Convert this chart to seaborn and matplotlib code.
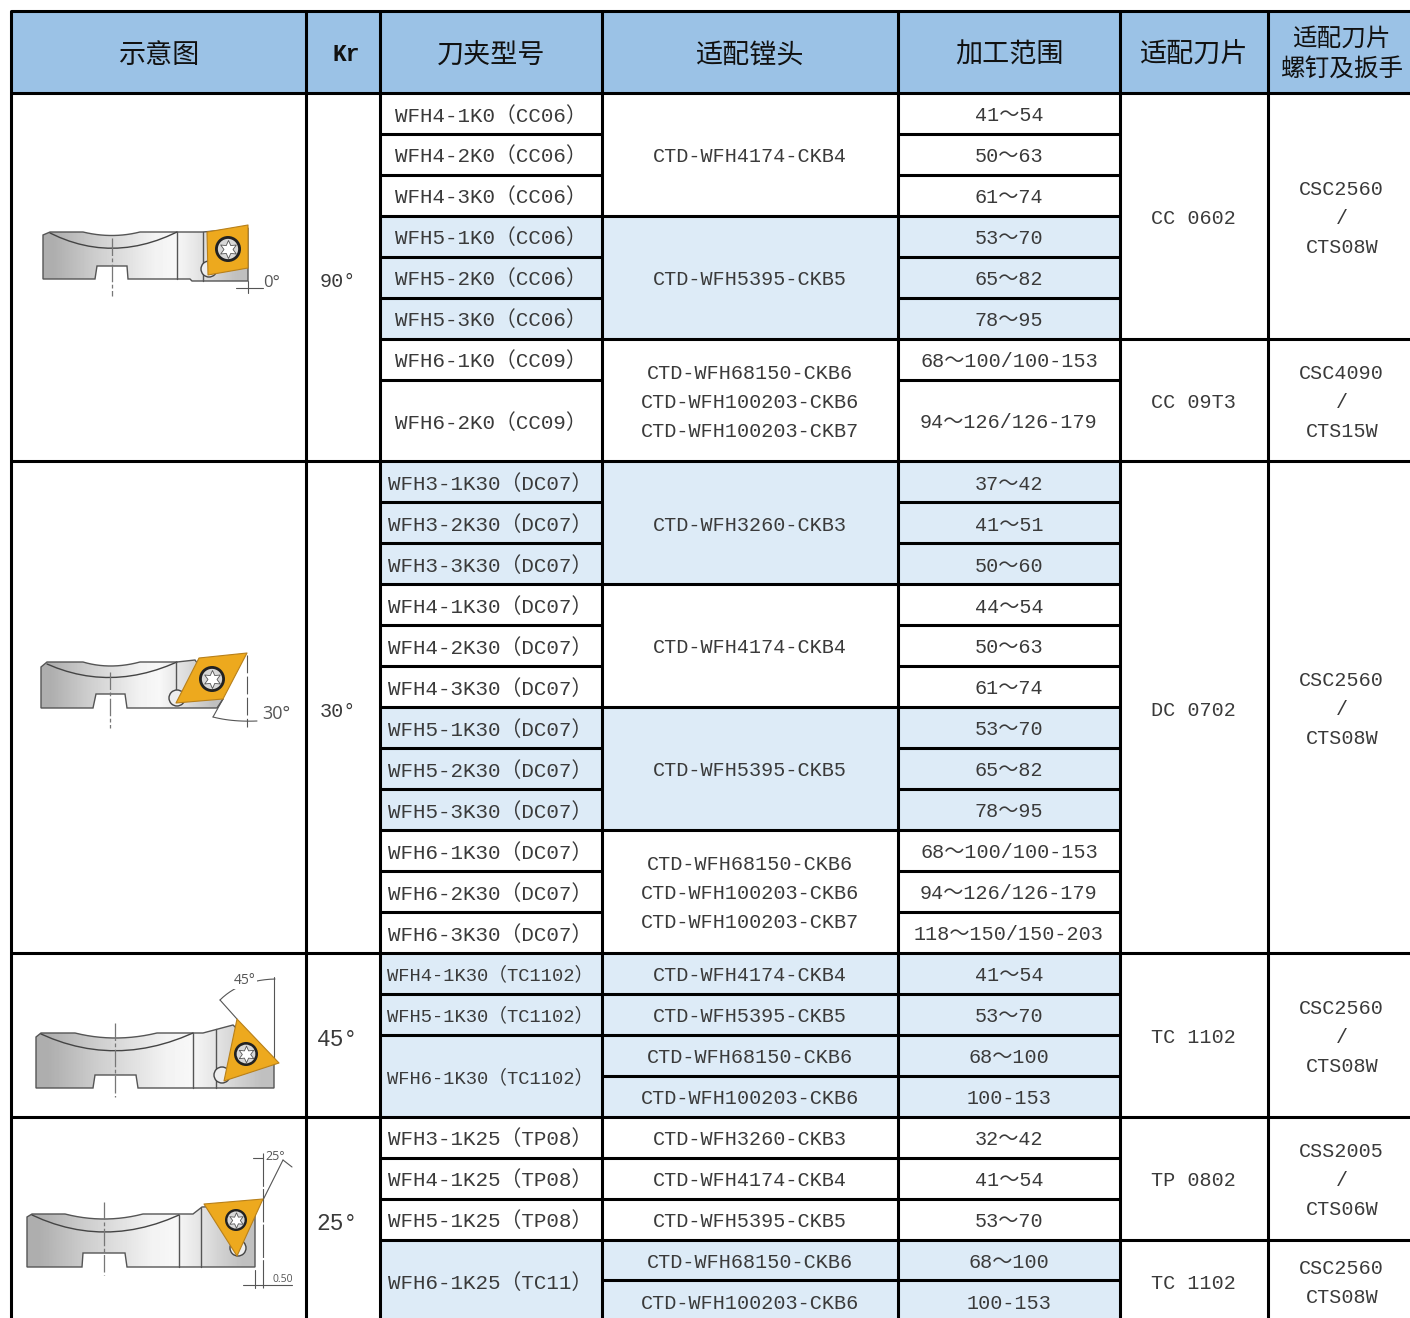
import matplotlib
matplotlib.use('Agg')
import matplotlib.pyplot as plt
import numpy as np
import seaborn as sns
from matplotlib.colors import ListedColormap
from matplotlib.patches import Circle, Polygon

W, H = 1410, 1318
COL_W, ROW_H = 73.96, 40.95
LEFT, TOP = 10.5, 11.0
N_COLS, N_ROWS = 19, 32

header_labels = ['示意图', 'Kr', '刀夹型号', '适配镗头', '加工范围', '适配刀片', '适配刀片\n螺钉及扳手']
column_edges = [0, 4, 5, 8, 12, 15, 17, 19]

group_spans = [9, 12, 4, 5]
kr_labels = ['90°', '30°', '45°', '25°']

holder_labels = [
    'WFH4-1K0（CC06）', 'WFH4-2K0（CC06）', 'WFH4-3K0（CC06）',
    'WFH5-1K0（CC06）', 'WFH5-2K0（CC06）', 'WFH5-3K0（CC06）',
    'WFH6-1K0（CC09）', 'WFH6-2K0（CC09）',
    'WFH3-1K30（DC07）', 'WFH3-2K30（DC07）', 'WFH3-3K30（DC07）',
    'WFH4-1K30（DC07）', 'WFH4-2K30（DC07）', 'WFH4-3K30（DC07）',
    'WFH5-1K30（DC07）', 'WFH5-2K30（DC07）', 'WFH5-3K30（DC07）',
    'WFH6-1K30（DC07）', 'WFH6-2K30（DC07）', 'WFH6-3K30（DC07）',
    'WFH4-1K30（TC1102）', 'WFH5-1K30（TC1102）', 'WFH6-1K30（TC1102）',
    'WFH3-1K25（TP08）', 'WFH4-1K25（TP08）', 'WFH5-1K25（TP08）',
    'WFH6-1K25（TC11）',
]
holder_spans = [1] * 7 + [2] + [1] * 14 + [2] + [1] * 3 + [2]
holder_shade = [0] * 3 + [1] * 3 + [0] * 2 + [1] * 3 + [0] * 3 + [1] * 3 + [0] * 3 + [1] * 3 + [0] * 3 + [1]

triple_a = 'CTD-WFH68150-CKB6\nCTD-WFH100203-CKB6\nCTD-WFH100203-CKB7'
seat_labels = [
    'CTD-WFH4174-CKB4', 'CTD-WFH5395-CKB5', triple_a,
    'CTD-WFH3260-CKB3', 'CTD-WFH4174-CKB4', 'CTD-WFH5395-CKB5', triple_a,
    'CTD-WFH4174-CKB4', 'CTD-WFH5395-CKB5', 'CTD-WFH68150-CKB6', 'CTD-WFH100203-CKB6',
    'CTD-WFH3260-CKB3', 'CTD-WFH4174-CKB4', 'CTD-WFH5395-CKB5',
    'CTD-WFH68150-CKB6', 'CTD-WFH100203-CKB6',
]
seat_spans = [3] * 7 + [1] * 9
seat_shade = [0, 1, 0, 1, 0, 1, 0, 1, 1, 1, 1, 0, 0, 0, 1, 1]

range_labels = [
    '41～54', '50～63', '61～74', '53～70', '65～82', '78～95',
    '68～100/100-153', '94～126/126-179',
    '37～42', '41～51', '50～60', '44～54', '50～63', '61～74',
    '53～70', '65～82', '78～95',
    '68～100/100-153', '94～126/126-179', '118～150/150-203',
    '41～54', '53～70', '68～100', '100-153',
    '32～42', '41～54', '53～70', '68～100', '100-153',
]
range_spans = [1] * 7 + [2] + [1] * 21
range_shade = [0] * 3 + [1] * 3 + [0] * 2 + [1] * 3 + [0] * 3 + [1] * 3 + [0] * 3 + [1] * 4 + [0] * 3 + [1] * 2

insert_labels = ['CC 0602', 'CC 09T3', 'DC 0702', 'TC 1102', 'TP 0802', 'TC 1102']
insert_spans = [6, 3, 12, 4, 3, 2]
screw_labels = ['CSC2560\n/\nCTS08W', 'CSC4090\n/\nCTS15W', 'CSC2560\n/\nCTS08W',
                'CSC2560\n/\nCTS08W', 'CSS2005\n/\nCTS06W', 'CSC2560\nCTS08W']

HEADER_BLUE = '#9BC2E6'
LIGHT_BLUE = '#DDEBF7'
GOLD = '#EDA91E'
TEXT = '#3a3a3a'
CJK = ['Noto Sans CJK SC', 'DejaVu Sans']

sns.set_theme(style='white')
plt.rcParams['font.family'] = ['Liberation Mono', 'Noto Sans CJK SC']

# the table sits on a regular 74 x 41 px grid, so a heatmap gives the fills
shade = np.zeros((N_ROWS, N_COLS))
shade[:2, :] = 2


def fill_column(col0, col1, spans, flags):
    row = 2
    for span, flag in zip(spans, flags):
        shade[row:row + span, col0:col1] = flag
        row += span


fill_column(5, 8, holder_spans, holder_shade)
fill_column(8, 12, seat_spans, seat_shade)
fill_column(12, 15, range_spans, range_shade)

fig = plt.figure(figsize=(W / 100, H / 100), dpi=100, facecolor='white')
ax = fig.add_axes([LEFT / W, 1 - (TOP + N_ROWS * ROW_H) / H,
                   N_COLS * COL_W / W, N_ROWS * ROW_H / H])
sns.heatmap(shade, cmap=ListedColormap(['white', LIGHT_BLUE, HEADER_BLUE]), vmin=0, vmax=2,
            cbar=False, xticklabels=False, yticklabels=False, ax=ax)
ax.collections[0].set_antialiased(False)

LW = 2.2


def draw_column(col0, col1, spans, labels, size=14.5, dy=0.055, dx=0.0, spacing=1.66):
    row = 2
    for span, label in zip(spans, labels):
        ax.plot([col0, col1], [row + span, row + span], color='black', lw=LW,
                solid_capstyle='butt', clip_on=False)
        if label:
            fs = 13.5 if 'TC1102' in label else size
            if label in ('45°', '25°'):
                fs = 16.5
            ax.text((col0 + col1) / 2 + dx, row + span / 2 + dy, label, ha='center', va='center',
                    fontsize=fs, color=TEXT, linespacing=spacing)
        row += span


draw_column(0, 4, group_spans, [''] * 4)
draw_column(4, 5, group_spans, kr_labels, dx=-0.08, dy=0.11)
draw_column(5, 8, holder_spans, holder_labels, size=15, dx=-0.01)
draw_column(8, 12, seat_spans, seat_labels)
draw_column(12, 15, range_spans, range_labels)
draw_column(15, 17, insert_spans, insert_labels, dy=0.07)
draw_column(17, 19, insert_spans, screw_labels, dy=0.06)

ax.plot([0, N_COLS], [0, 0], color='black', lw=LW, clip_on=False)
ax.plot([0, N_COLS], [2, 2], color='black', lw=LW, clip_on=False)
for edge in column_edges[:-1]:
    ax.plot([edge, edge], [0, N_ROWS], color='black', lw=LW, clip_on=False,
            solid_capstyle='butt')

for i, label in enumerate(header_labels):
    x = (column_edges[i] + column_edges[i + 1]) / 2
    if label == 'Kr':
        ax.text(x + 0.04, 1.07, label, ha='center', va='center', fontsize=16.5, fontweight='bold',
                color='#111111')
    elif '\n' in label:
        ax.text(x, 1.05, label, ha='center', va='center', fontsize=17.7, color='#111111',
                family=CJK, linespacing=1.2)
    else:
        ax.text(x, 1.08, label, ha='center', va='center', fontsize=19.5, color='#111111', family=CJK)

# sketches of the tools, in picture pixels on a second transparent layer
sk = fig.add_axes([0, 0, 1, 1])
sk.patch.set_alpha(0)
sk.set_axis_off()
GRAD = np.array([[0.68, 0.74, 0.80, 0.85, 0.90, 0.95, 0.97, 0.90, 0.82, 0.75]])


def curve(p0, c, p1, n=14):
    t = np.linspace(0, 1, n)[:, None]
    return (1 - t) ** 2 * np.array(p0) + 2 * t * (1 - t) * np.array(c) + t ** 2 * np.array(p1)


def sketch(outline, arc, dividers, insert, screw, screw_r, pocket, center_x, center_y):
    xs, ys = outline[:, 0], outline[:, 1]
    body = Polygon(outline, closed=True, facecolor='none', edgecolor='#555555', lw=1.0, zorder=3)
    sk.add_patch(body)
    im = sk.imshow(GRAD, cmap='gray', vmin=0, vmax=1, aspect='auto', interpolation='bilinear',
                   extent=[xs.min(), xs.max(), ys.max(), ys.min()], zorder=2)
    im.set_clip_path(body)
    sk.plot(arc[:, 0], arc[:, 1], color='#444444', lw=1.0, zorder=3)
    for x, y0, y1 in dividers:
        sk.plot([x, x], [y0, y1], color='#555555', lw=1.0, zorder=3)
    sk.plot([center_x, center_x], center_y, color='#777777', lw=0.9, ls=(0, (14, 2, 3, 2)), zorder=4)
    if pocket is not None:
        sk.add_patch(Circle(pocket, 8, facecolor='#eeeeee', edgecolor='#444444', lw=1.0, zorder=4))
    sk.add_patch(Polygon(insert, closed=True, facecolor=GOLD, edgecolor='#b8801a', lw=0.8,
                         joinstyle='round', zorder=5))
    sk.add_patch(Circle(screw, screw_r, facecolor='#222222', edgecolor='none', zorder=6))
    sk.add_patch(Circle(screw, screw_r * 0.78, facecolor='#d8d8d8', edgecolor='none', zorder=7))
    sk.scatter([screw[0]], [screw[1]], s=screw_r ** 2, marker=(6, 1, 0), facecolor='white',
               edgecolor='#555555', lw=0.6, zorder=8)


def leader(points, lw=0.8, color='#555555', ls='-'):
    pts = np.array(points)
    sk.plot(pts[:, 0], pts[:, 1], color=color, lw=lw, ls=ls, zorder=3)


def note(x, y, label, size, backed=False):
    box = dict(facecolor='white', edgecolor='none', pad=0.5) if backed else None
    sk.text(x, y, label, ha='center', va='center', fontsize=size, color='#555555',
            family=['Open Sans', 'DejaVu Sans'], bbox=box, zorder=4)


# 90 degree holder
sketch(np.vstack([[(43, 235), (50, 232)], curve((83, 232), (112, 239), (140, 232)),
                  [(203, 232), (248, 228), (248, 281), (192, 281), (190, 279),
                   (128, 279), (127, 266), (97, 266), (95, 279), (43, 279)]]),
       curve((50, 233), (112, 264), (177, 232)), [(177, 232, 279), (203, 232, 281)],
       [(207, 232), (248, 225), (248, 268), (208, 275)], (228, 249), 13, (209, 269), 112, (238, 296))
leader([(236, 288), (248, 288)])
leader([(248, 288), (263, 288)])
leader([(248, 281), (248, 293)])
note(272, 283, '0°', 12)

# 30 degree holder
sketch(np.vstack([[(41, 667), (47, 662)], curve((83, 662), (110, 670), (140, 662)),
                  [(177, 662), (195, 660), (223, 699), (217, 708), (127, 708), (125, 694),
                   (96, 694), (93, 708), (41, 708)]]),
       curve((47, 664), (110, 692), (177, 662)), [(176, 662, 690)],
       [(199, 658), (247, 653), (223, 699), (176, 703)], (212, 679), 13, (177, 698), 110, (672, 728))
leader([(247, 655), (247, 727)], ls=(0, (16, 3)))
leader([(223, 699), (213, 717)])
sk.plot(*curve((213, 717), (232, 722), (257, 721)).T, color='#555555', lw=0.8, zorder=3)
note(276, 714, '30°', 13)

# 45 degree holder
sketch(np.vstack([[(36, 1037), (41, 1033)], curve((75, 1033), (115, 1043), (157, 1033)),
                  [(203, 1033), (233, 1025), (274, 1063), (274, 1088), (138, 1088), (136, 1075),
                   (95, 1075), (93, 1088), (36, 1088)]]),
       curve((41, 1034), (115, 1068), (193, 1033)), [(193, 1033, 1088), (216, 1029, 1088)],
       [(237, 1019), (279, 1063), (224, 1081)], (246, 1054), 12, (222, 1075), 115, (1023, 1097))
leader([(274, 977), (274, 1063)])
leader([(237, 1019), (220, 1000)])
sk.plot(*curve((220, 1000), (240, 980), (275, 979)).T, color='#555555', lw=0.8, zorder=3)
note(245, 981, '45°', 10, backed=True)

# 25 degree holder
sketch(np.vstack([[(27, 1217), (32, 1214)], curve((65, 1214), (104, 1224), (143, 1214)),
                  [(193, 1214), (202, 1207), (255, 1205), (255, 1267), (127, 1267), (125, 1253),
                   (83, 1253), (82, 1267), (27, 1267)]]),
       curve((32, 1215), (104, 1249), (179, 1215)), [(179, 1215, 1267), (201, 1208, 1267)],
       [(204, 1204), (263, 1199), (237, 1256)], (236, 1220), 11, (238, 1248), 104, (1202, 1275))
leader([(263, 1153), (263, 1288)], ls=(0, (30, 2)))
leader([(263, 1200), (283, 1160)])
leader([(253, 1158), (263, 1158)])
leader([(283, 1160), (292, 1167)])
leader([(243, 1285), (292, 1285)])
leader([(255, 1270), (255, 1288)])
note(275, 1157, '25°', 9)
note(283, 1279, '0.50', 7.5)

sk.set_xlim(0, W)
sk.set_ylim(H, 0)

fig.savefig('out.png', dpi=100, facecolor='white')
